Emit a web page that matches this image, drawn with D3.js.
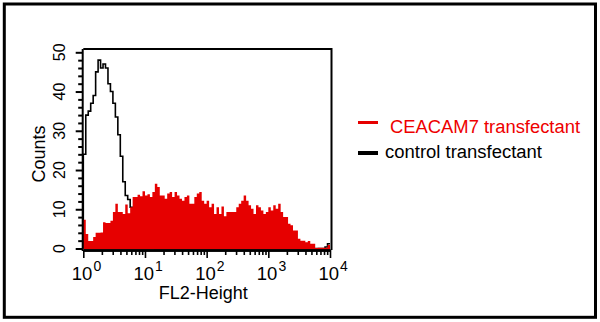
<!DOCTYPE html>
<html><head><meta charset="utf-8">
<script src="https://cdn.jsdelivr.net/npm/d3@7"></script>
<style>
body{margin:0;background:#fff}
svg{display:block}
text{font-family:"Liberation Sans",Arial,Helvetica,sans-serif}
</style>
</head><body>
<svg id="chart" width="600" height="322"></svg>
<script>
// ---- data ----
const seriesNames = ["CEACAM7 transfectant", "control transfectant"];
const xAxisLabel = "FL2-Height";
const yAxisLabel = "Counts";
const xTickExponents = [0, 1, 2, 3, 4];
const yTickValues = [0, 10, 20, 30, 40, 50];
const binLogWidth = 0.04; // channel width in decades (100 channels over 4 decades)
const ceacam7Counts = [
  7.3, 3.7, 1.9, 1.9, 2.9, 4.0, 4.0, 4.1, 6.7, 6.5,
  6.5, 7.1, 9.3, 11.4, 9.3, 9.3, 8.8, 11.2, 9.0, 10.5,
  13.1, 13.1, 13.7, 13.3, 14.6, 13.5, 13.8, 13.1, 14.4, 16.5,
  15.7, 13.5, 13.5, 12.7, 14.0, 14.4, 13.1, 14.4, 13.5, 12.7,
  12.2, 13.1, 13.5, 11.4, 11.4, 13.1, 14.0, 14.4, 12.2, 11.4,
  12.2, 10.5, 11.4, 8.8, 10.5, 8.8, 10.7, 8.2, 9.3, 9.3,
  9.3, 9.3, 10.5, 11.4, 12.2, 13.5, 12.2, 11.0, 10.1, 8.8,
  11.0, 10.5, 9.7, 8.8, 9.3, 10.5, 9.7, 11.0, 10.1, 11.4,
  9.3, 8.0, 8.0, 6.3, 5.9, 4.6, 4.6, 2.5, 2.0, 2.0,
  1.6, 1.9, 1.2, 1.2, 0.1, 0.2, 0.2, 0.2, 0.2, 0.9
];
const controlCounts = [
  24, 34, 35, 37, 39, 45, 48, 46, 47, 46,
  42, 40, 37, 33.5, 29, 23.5, 17, 13.5, 12.5, 10.5,
  8, 6, 4, 3, 2, 1.5, 1, 0.5, 0.5, 0,
  0, 0, 0, 0, 0, 0, 0, 0, 0, 0,
  0, 0, 0, 0, 0, 0, 0, 0, 0, 0,
  0, 0, 0, 0, 0, 0, 0, 0, 0, 0,
  0, 0, 0, 0, 0, 0, 0, 0, 0, 0,
  0, 0, 0, 0, 0, 0, 0, 0, 0, 0,
  0, 0, 0, 0, 0, 0, 0, 0, 0, 0,
  0, 0, 0, 0, 0, 0, 0, 0, 0.4, 1.2
];
const seriesColors = ["#e60000", "#000000"];

// ---- chart ----
const svg = d3.select("#chart");
const x = d3.scaleLog().domain([1, 1e4]).range([83.3, 330]);
const y = d3.scaleLinear().domain([0, 50]).range([248.5, 52.3]);

// outer frame
svg.append("rect").attr("x", 4.3).attr("y", 4).attr("width", 591.2).attr("height", 313.3)
  .attr("fill", "none").attr("stroke", "#000").attr("stroke-width", 3);

function steps(counts) {
  const pts = counts.map((c, i) => [Math.pow(10, i * binLogWidth), c]);
  pts.push([Math.pow(10, counts.length * binLogWidth), counts[counts.length - 1]]);
  return pts;
}

// control (black outline)
const ctrlPts = [[1, 0]].concat(steps(controlCounts));
svg.append("path").datum(ctrlPts)
  .attr("d", d3.line().curve(d3.curveStepAfter).x(d => x(d[0])).y(d => y(d[1])))
  .attr("fill", "none").attr("stroke", seriesColors[1]).attr("stroke-width", 1.6);

// CEACAM7 (red filled)
svg.append("path").datum(steps(ceacam7Counts))
  .attr("d", d3.area().curve(d3.curveStepAfter).x(d => x(d[0])).y0(y(0) + 1).y1(d => y(d[1])))
  .attr("fill", seriesColors[0]);

// plot frame (top & right)
svg.append("path").attr("d", `M${x(1)},49 H331.5 V250`).attr("fill", "none")
  .attr("stroke", "#000").attr("stroke-width", 2);

// x axis
const minorTicks = [];
for (let e = 0; e < 4; e++) for (let m = 2; m <= 9; m++) minorTicks.push(m * Math.pow(10, e));
const xAxisG = svg.append("g").attr("transform", "translate(0,250)");
xAxisG.call(d3.axisBottom(x).tickValues(minorTicks).tickSize(5).tickFormat("").tickSizeOuter(0));
xAxisG.append("g").call(d3.axisBottom(x).tickValues(xTickExponents.map(e => Math.pow(10, e))).tickSize(8).tickFormat("").tickSizeOuter(0));
xAxisG.selectAll(".domain").attr("stroke-width", 2.5);
xAxisG.selectAll(".tick line").attr("stroke-width", 1.6);

xTickExponents.forEach(e => {
  const t = svg.append("text").attr("x", x(Math.pow(10, e)) - 11.5).attr("y", 280)
    .attr("font-size", 18.5).attr("fill", "#000");
  t.append("tspan").text("10");
  t.append("tspan").attr("dy", -9.5).attr("dx", 1).attr("font-size", 14).text(String(e));
});
svg.append("text").attr("x", 203.3).attr("y", 299.3).attr("text-anchor", "middle")
  .attr("font-size", 18).text(xAxisLabel);

// y axis
const yMinor = d3.range(0, 51, 2).filter(v => v % 10 !== 0);
const yAxisG = svg.append("g").attr("transform", "translate(82.7,0)");
yAxisG.call(d3.axisLeft(y).tickValues(yMinor).tickSize(4.5).tickFormat("").tickSizeOuter(0));
yAxisG.append("g").call(d3.axisLeft(y).tickValues(yTickValues).tickSize(7).tickFormat("").tickSizeOuter(0));
yAxisG.selectAll(".domain").remove();
yAxisG.selectAll(".tick line").attr("stroke-width", 2);
svg.append("line").attr("x1", 82.7).attr("x2", 82.7).attr("y1", 49).attr("y2", 251)
  .attr("stroke", "#000").attr("stroke-width", 2);

yTickValues.forEach(v => {
  svg.append("text").attr("transform", `translate(65,${y(v)}) rotate(-90)`)
    .attr("text-anchor", "middle").attr("font-size", 16).text(String(v));
});
svg.append("text").attr("transform", "translate(45,154) rotate(-90)")
  .attr("text-anchor", "middle").attr("font-size", 18).text(yAxisLabel);

// legend
const legend = svg.append("g");
[[122.5, 132.7, 390, 3, 190], [153, 158.3, 385, 4, 157]].forEach((p, i) => {
  legend.append("line").attr("x1", 358).attr("x2", 378).attr("y1", p[0]).attr("y2", p[0])
    .attr("stroke", seriesColors[i]).attr("stroke-width", p[3]);
  legend.append("text").attr("x", p[2]).attr("y", p[1]).attr("font-size", 18)
    .attr("textLength", p[4]).attr("lengthAdjust", "spacingAndGlyphs")
    .attr("fill", i === 0 ? "#ee0000" : "#000").text(seriesNames[i]);
});
</script>
</body></html>
